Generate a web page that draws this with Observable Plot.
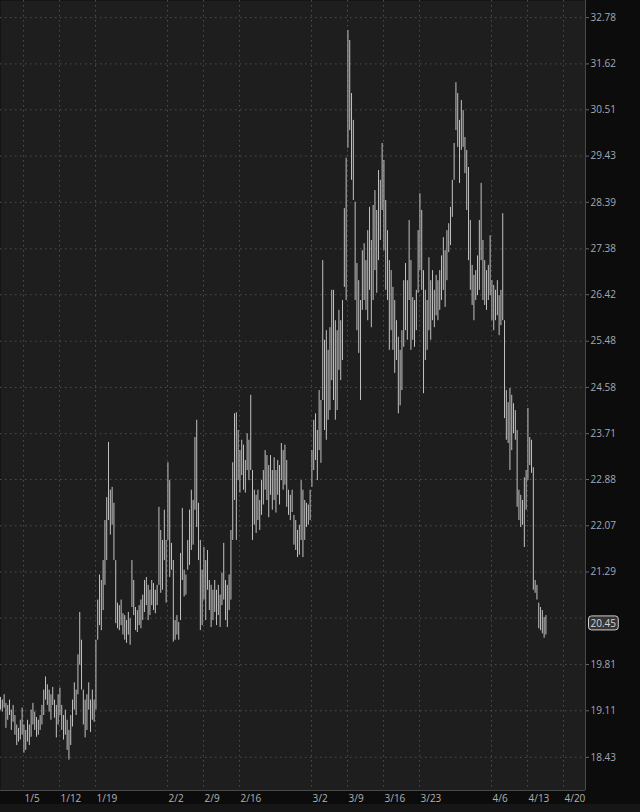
<!DOCTYPE html>
<html><head><meta charset="utf-8">
<script src="https://cdn.jsdelivr.net/npm/d3@7"></script>
<script src="https://cdn.jsdelivr.net/npm/@observablehq/plot@0.6"></script>
<style>
html,body{margin:0;padding:0;background:#0c0c0c;width:640px;height:812px;overflow:hidden;}
#chart svg{display:block;}
#toolbar{height:8px;background:#161616;}
</style></head><body>
<div id="chart"></div><div id="toolbar"></div>
<script>
// Bars: one every quarter trading day, starting a little before 1/5
const firstBarDay = -3.19;
const barStep = 0.25;

const highs = [
19.31,19.27,19.35,19.22,19.19,19.27,19.12,19.19,19.04,18.90,
18.85,18.97,19.15,18.90,18.82,18.97,18.90,19.12,19.22,19.09,
19.01,18.97,19.04,19.19,19.42,19.62,19.50,19.42,19.35,19.46,
19.27,19.19,19.35,19.45,19.19,19.04,19.12,18.97,18.82,19.04,
19.27,19.53,19.42,19.96,20.63,20.19,19.42,19.27,19.35,19.53,
19.27,19.42,19.27,20.19,
20.83,21.24,21.15,21.48,22.16,22.56,23.55,22.69,22.74,22.46,
21.48,20.78,20.74,20.83,20.61,20.58,20.50,20.63,20.53,21.48,
21.15,20.71,20.66,20.74,20.83,20.91,21.15,21.20,21.07,20.99,
21.15,21.10,20.99,21.07,22.39,21.99,21.82,22.34,21.82,23.18,
22.86,21.77,21.48,20.50,20.58,20.47,21.60,22.37,21.32,21.24,
21.82,22.34,22.69,22.51,23.64,23.96,22.46,21.82,21.32,21.70,
21.48,21.65,21.15,21.07,20.99,21.15,20.99,21.07,20.91,21.27,
21.77,21.15,21.07,21.24,21.99,23.18,
24.08,24.10,23.77,23.40,23.59,23.50,23.22,23.71,23.59,24.43,
23.04,22.69,22.60,22.69,22.51,22.86,23.04,23.40,23.31,23.13,
23.31,23.04,23.27,23.04,23.22,23.13,23.53,23.40,23.50,23.22,
22.69,22.60,22.69,22.25,22.16,21.99,22.08,22.86,22.69,22.51,
22.46,22.43,22.69,23.40,23.96,24.08,23.77,24.52,24.33,27.13,
25.50,25.69,25.30,25.75,26.51,26.51,25.89,25.69,26.10,25.89,
26.30,28.25,29.38,32.45,32.20,30.90,30.26,28.39,27.07,26.71,
26.30,27.34,27.49,27.13,27.77,28.28,27.56,28.32,28.65,28.21,
29.10,28.88,29.72,29.33,28.43,27.77,27.13,26.92,26.57,26.30,
25.89,25.56,25.30,25.69,26.71,27.07,26.71,27.99,27.13,26.36,
26.30,26.51,27.77,28.58,28.21,26.92,26.51,26.30,27.19,26.71,
26.92,26.51,26.82,26.71,26.92,27.23,27.62,27.34,27.77,27.92,
28.28,28.88,29.72,31.16,30.90,30.26,30.73,30.49,29.86,29.56,
29.17,27.99,
27.03,26.82,26.92,27.23,27.99,28.81,27.56,27.13,26.92,27.03,
27.66,26.71,26.61,26.51,26.71,26.40,26.51,28.14,25.89,24.52,
24.29,24.56,24.43,24.27,24.14,23.77,22.69,22.60,22.51,22.91,
23.04,24.18,23.64,23.59,23.09,21.15,21.07,20.78,20.71,20.66,
20.55,20.58
];

const lows = [
19.12,19.09,19.15,18.85,18.97,19.04,18.82,18.94,18.75,18.60,
18.65,18.68,18.75,18.49,18.53,18.65,18.60,18.72,18.90,18.82,
18.72,18.75,18.82,18.90,19.04,19.27,19.19,19.09,18.97,19.19,
19.00,18.71,18.90,19.04,18.82,18.68,18.75,18.53,18.39,18.60,
18.87,19.12,19.04,19.35,19.80,19.42,18.90,18.71,18.82,19.12,
18.79,18.97,18.94,19.12,
20.19,20.42,20.34,20.66,21.07,21.48,22.16,21.91,22.08,21.48,
20.45,20.37,20.34,20.42,20.27,20.19,20.14,20.27,20.11,20.71,
20.58,20.34,20.31,20.42,20.37,20.50,20.63,20.74,20.50,20.58,
20.74,20.66,20.61,20.74,21.07,20.94,20.99,21.48,20.78,21.82,
21.20,21.32,20.16,20.19,20.27,20.19,20.50,21.15,20.88,20.91,
21.32,21.40,21.65,21.74,22.34,22.04,21.48,20.34,20.42,20.83,
20.50,20.99,20.66,20.39,20.50,20.63,20.42,20.58,20.39,20.74,
20.83,20.50,20.39,20.66,20.83,21.82,
22.51,21.82,22.86,22.64,22.95,22.69,22.64,23.04,22.86,23.04,
21.82,22.08,21.94,22.16,21.99,22.25,22.43,22.69,22.51,22.21,
22.60,22.34,22.51,22.29,22.60,22.43,22.86,22.69,22.78,22.39,
22.25,22.16,22.30,21.74,21.65,21.53,21.57,21.82,21.53,21.82,
22.04,22.08,22.16,22.74,23.04,23.22,22.86,23.40,23.17,24.33,
23.77,23.59,23.96,24.14,24.71,24.33,23.96,24.14,24.91,24.71,
25.10,26.57,26.30,29.61,30.02,28.88,28.43,26.30,25.69,25.24,
24.33,26.10,26.30,26.10,25.89,26.51,25.75,26.30,26.92,26.45,
27.13,27.56,28.21,27.34,26.51,26.30,25.30,25.69,25.30,24.85,
25.10,24.08,24.23,24.52,25.36,25.69,25.50,26.30,25.30,25.50,
25.36,25.69,26.45,26.92,26.51,24.46,25.10,25.30,25.69,25.50,
25.89,25.75,25.99,25.89,26.10,26.30,26.51,26.16,26.71,27.30,
27.45,28.06,28.88,30.02,29.63,28.81,29.56,29.63,29.03,28.21,
27.13,26.51,
26.20,25.89,26.30,26.40,26.51,27.13,26.30,26.20,26.10,26.30,
26.40,25.89,25.69,25.89,25.99,25.59,25.79,25.89,23.99,23.59,
23.53,23.04,23.40,23.71,23.59,22.39,22.16,22.04,22.08,21.70,
22.34,22.86,23.13,22.99,20.99,20.94,20.83,20.37,20.34,20.29,
20.22,20.27
];

// Axis ticks (trading-day index from 1/5) and labels
const tickDays = [0, 5, 10, 20, 25, 30, 40, 45, 50, 55, 65, 70, 75];
const tickLabels = ["1/5","1/12","1/19","2/2","2/9","2/16","3/2","3/9","3/16","3/23","4/6","4/13","4/20"];
const priceLabels = [18.43,19.11,19.81,21.29,22.07,22.88,23.71,24.58,25.48,26.42,27.38,28.39,29.43,30.51,31.62,32.78];
const priceGrid = [18.43,19.11,19.81,20.54,21.29,22.07,22.88,23.71,24.58,25.48,26.42,27.38,28.39,29.43,30.51,31.62,32.78];
const lastPrice = 20.45;
const xDomain = [-3.194, 78.056];
const yDomain = [17.96, 33.22];

const bars = highs.map((h, i) => ({day: firstBarDay + i * barStep, high: h, low: lows[i]}));
const labelOf = new Map(tickDays.map((d, i) => [d, tickLabels[i]]));

const chart = Plot.plot({
  width: 640, height: 804,
  marginLeft: 0, marginRight: 55, marginTop: 0, marginBottom: 14,
  style: {background: "#0c0c0c", color: "#a9aeb6", fontFamily: "'Open Sans', sans-serif", fontSize: "10px"},
  x: {type: "linear", domain: xDomain},
  y: {type: "log", domain: yDomain},
  marks: [
    Plot.frame({fill: "#1e1e1e", stroke: null}),
    Plot.gridY(priceGrid, {stroke: "#4e4e4e", strokeOpacity: 1, strokeDasharray: "1.5,3.5"}),
    Plot.gridX(tickDays, {stroke: "#4e4e4e", strokeOpacity: 1, strokeDasharray: "1.5,3.5"}),
    Plot.ruleX(bars, {x: "day", y1: "low", y2: "high", stroke: "#c2c2c2", strokeWidth: 1}),
    Plot.ruleX([xDomain[1]], {stroke: "#4a4a4a"}),
    Plot.ruleY([yDomain[0]], {stroke: "#4a4a4a"}),
    Plot.axisY(priceLabels, {anchor: "right", tickSize: 3, tickPadding: 2, stroke: "#666", label: null,
      tickFormat: d => d.toFixed(2), fill: "#a3a9b3"}),
    Plot.axisX(tickDays, {anchor: "bottom", tickSize: 0, tickPadding: 4, textAnchor: "start", dx: 1, label: null,
      tickFormat: d => labelOf.get(d), fill: "#b2b2b2"}),
    Plot.text([lastPrice], {x: () => xDomain[1], y: d => d, text: d => d.toFixed(2), dx: 5,
      textAnchor: "start", fill: "#d6d6d6", className: "bubble"})
  ]
});
document.getElementById("chart").appendChild(chart);

// rounded box behind the last-price label
const t = chart.querySelector("g.bubble text");
if (t) {
  const b = t.getBBox();
  const r = document.createElementNS("http://www.w3.org/2000/svg", "rect");
  r.setAttribute("x", b.x - 2); r.setAttribute("y", b.y);
  r.setAttribute("width", b.width + 4); r.setAttribute("height", b.height);
  r.setAttribute("rx", 3); r.setAttribute("fill", "#353535"); r.setAttribute("stroke", "#cfcfcf");
  const tr = t.getAttribute("transform");
  if (tr) r.setAttribute("transform", tr);
  t.parentNode.insertBefore(r, t);
}
</script>
</body></html>
